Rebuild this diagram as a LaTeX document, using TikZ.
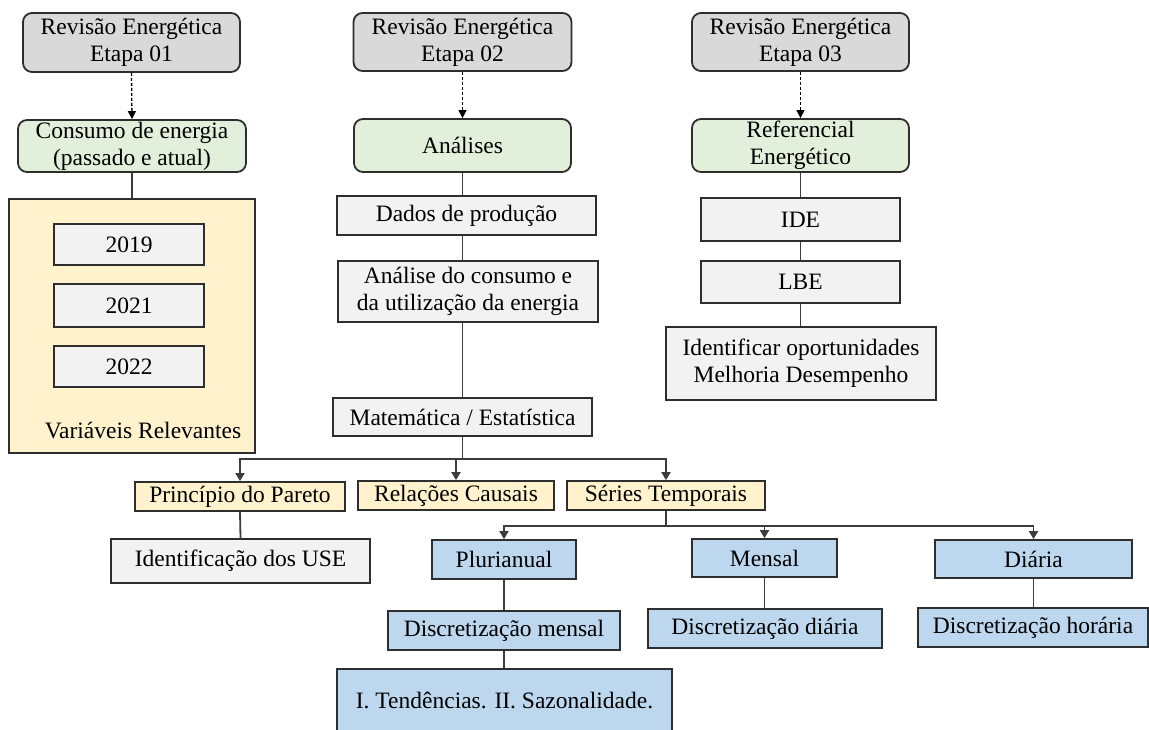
\documentclass[tikz,border=0pt]{standalone}
\usepackage{fontspec}
\setmainfont{LiberationSerif}[Extension=.ttf, UprightFont=*-Regular, BoldFont=*-Bold, ItalicFont=*-Italic, BoldItalicFont=*-BoldItalic]
\usetikzlibrary{arrows.meta,calc}

\definecolor{stagegray}{HTML}{D9D9D9}
\definecolor{stagegreen}{HTML}{E2EFDA}
\definecolor{paleyellow}{HTML}{FFF2CC}
\definecolor{palegray}{HTML}{F2F2F2}
\definecolor{paleblue}{HTML}{BDD7EE}
\definecolor{edge}{HTML}{2E2E2E}
\definecolor{wire}{HTML}{3C3C3C}

\tikzset{
  base/.style={draw=edge, line width=1.8pt, inner sep=0pt, align=center,
               font=\fontsize{23.5}{27}\selectfont},
  stage/.style={base, fill=stagegray, rounded corners=9pt},
  goal/.style={base, fill=stagegreen, rounded corners=9pt},
  grayitem/.style={base, fill=palegray},
  yellowitem/.style={base, fill=paleyellow},
  blueitem/.style={base, fill=paleblue},
  link/.style={draw=wire, line width=1.8pt},
  branch/.style={draw=wire, line width=1.9pt, -{Triangle[width=9pt,length=8pt]}},
  dotlink/.style={draw=black, line width=1.3pt, dash pattern=on 3pt off 2pt,
                  -{Triangle[width=8pt,length=8pt]}},
}

\begin{document}
\begin{tikzpicture}[x=1pt, y=-1pt]
\useasboundingbox (0,0) rectangle (1149,729);

% ---- stage headers ----
\node[stage, minimum width=217pt, minimum height=59pt] (e1) at (131.5,42.5) {Revisão Energética\\Etapa 01};
\node[stage, minimum width=218pt, minimum height=58pt] (e2) at (462.5,42) {Revisão Energética\\Etapa 02};
\node[stage, minimum width=217pt, minimum height=58pt] (e3) at (800.5,42) {Revisão Energética\\Etapa 03};

% ---- stage goals ----
\node[goal, minimum width=228pt, minimum height=52pt] (g1) at (132,146) {Consumo de energia\\(passado e atual)};
\node[goal, minimum width=217pt, minimum height=53pt] (g2) at (462.5,145.5) {Análises};
\node[goal, minimum width=217pt, minimum height=53pt] (g3) at (800.5,145.5) {Referencial\\Energético};

\draw[dotlink] (e1.south) -- (g1.north);
\draw[dotlink] (e2.south) -- (g2.north);
\draw[dotlink] (e3.south) -- (g3.north);

% ---- stage 01: relevant variables ----
\node[yellowitem, minimum width=246pt, minimum height=254pt] (vars) at (132,326) {};
\node[grayitem, minimum width=150pt, minimum height=41pt] (y19) at (129,244.5) {2019};
\node[grayitem, minimum width=150pt, minimum height=43pt] (y21) at (129,305.5) {2021};
\node[grayitem, minimum width=150pt, minimum height=41pt] (y22) at (129,366.5) {2022};
\node[font=\fontsize{23.5}{27}\selectfont] (varslabel) at (143,430) {Variáveis Relevantes};
\draw[link] (g1.south) -- (g1.south |- vars.north);

% ---- stage 02: analyses ----
\node[grayitem, minimum width=259pt, minimum height=39pt] (dados) at (466.5,215.5) {Dados de produção};
\node[grayitem, minimum width=260pt, minimum height=61pt] (analise) at (468,291.5) {Análise do consumo e\\da utilização da energia};
\node[grayitem, minimum width=259pt, minimum height=38pt] (mat) at (462.5,417) {Matemática / Estatística};
\draw[link] (g2.south) -- (g2.south |- dados.north);
\draw[link] (g2.south |- dados.south) -- (g2.south |- analise.north);
\draw[link] (g2.south |- analise.south) -- (g2.south |- mat.north);

% ---- stage 03: energy reference ----
\node[grayitem, minimum width=199pt, minimum height=43pt] (ide) at (800.5,219.5) {IDE};
\node[grayitem, minimum width=199pt, minimum height=42pt] (lbe) at (800.5,282) {LBE};
\node[grayitem, minimum width=270pt, minimum height=73pt] (oport) at (801,363.5) {Identificar oportunidades\\Melhoria Desempenho};
\draw[link] (g3.south) -- (g3.south |- ide.north);
\draw[link] (g3.south |- ide.south) -- (g3.south |- lbe.north);
\draw[link] (g3.south |- lbe.south) -- (g3.south |- oport.north);

% ---- statistical methods ----
\node[yellowitem, minimum width=210pt, minimum height=29pt] (pareto) at (240,496.5) {Princípio do Pareto};
\node[yellowitem, minimum width=196pt, minimum height=29pt] (causais) at (456,495.5) {Relações Causais};
\node[yellowitem, minimum width=198pt, minimum height=29pt] (series) at (666,495.5) {Séries Temporais};
\node[grayitem, minimum width=259pt, minimum height=44pt] (use) at (240.5,561) {Identificação dos USE};

\coordinate (hubA) at ($(mat.south)+(0,22)$);
\draw[link] (mat.south) -- (hubA);
\draw[branch] (hubA) -| (pareto.north);
\draw[branch] (hubA) -| (causais.north);
\draw[branch] (hubA) -| (series.north);
\draw[link] (pareto.south) -- (use.north);

% ---- time series resolutions ----
\node[blueitem, minimum width=144pt, minimum height=39pt] (pluri) at (504,559.5) {Plurianual};
\node[blueitem, minimum width=145pt, minimum height=38pt] (mensal) at (764.5,558) {Mensal};
\node[blueitem, minimum width=197pt, minimum height=38pt] (diaria) at (1033.5,559) {Diária};
\node[blueitem, minimum width=232pt, minimum height=39pt] (dmensal) at (504,630.5) {Discretização mensal};
\node[blueitem, minimum width=234pt, minimum height=39pt] (ddiaria) at (765,628.5) {Discretização diária};
\node[blueitem, minimum width=230pt, minimum height=39pt] (dhoraria) at (1033,627.5) {Discretização horária};
\node[blueitem, minimum width=335pt, minimum height=62pt] (tend) at (504.5,700) {I. Tendências. II. Sazonalidade.};

\coordinate (hubB) at ($(series.south)+(0,15)$);
\draw[link] (series.south) -- (hubB);
\draw[branch] (hubB) -| (pluri.north);
\draw[branch] (hubB) -| (mensal.north);
\draw[branch] (hubB) -| (diaria.north);
\draw[link] (pluri.south) -- (dmensal.north);
\draw[link] (mensal.south) -- (mensal.south |- ddiaria.north);
\draw[link] (diaria.south) -- (diaria.south |- dhoraria.north);
\draw[link] (dmensal.south) -- (dmensal.south |- tend.north);
\end{tikzpicture}
\end{document}
